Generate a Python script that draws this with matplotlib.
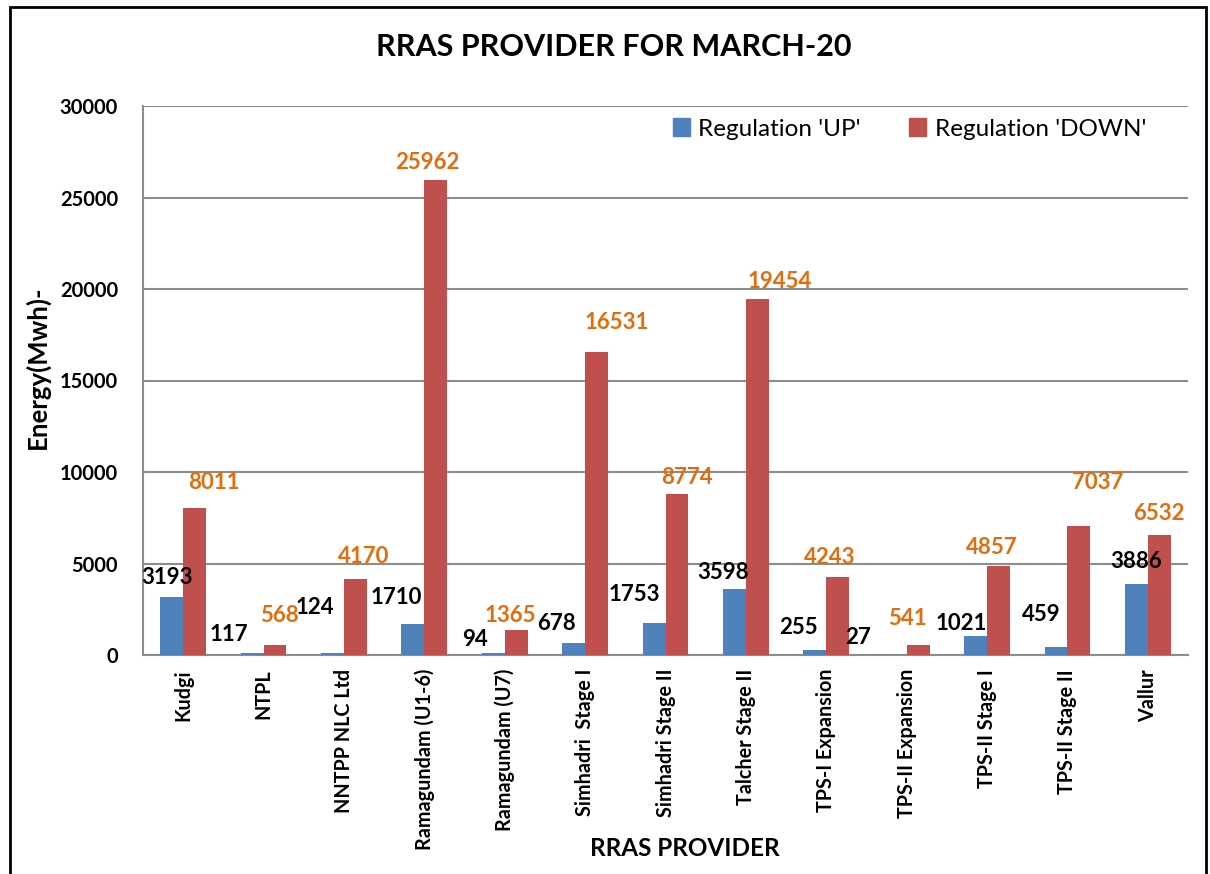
import numpy as np
import matplotlib
matplotlib.use("Agg")
import matplotlib.pyplot as plt
from matplotlib.patches import Rectangle, Patch

providers = ["Kudgi", "NTPL", "NNTPP NLC Ltd", "Ramagundam (U1-6)", "Ramagundam (U7)",
             "Simhadri  Stage I", "Simhadri Stage II", "Talcher Stage II", "TPS-I Expansion",
             "TPS-II Expansion", "TPS-II Stage I", "TPS-II Stage II", "Vallur"]
reg_up = [3193, 117, 124, 1710, 94, 678, 1753, 3598, 255, 27, 1021, 459, 3886]
reg_down = [8011, 568, 4170, 25962, 1365, 16531, 8774, 19454, 4243, 541, 4857, 7037, 6532]

# hand-placed data label offsets (pixels from bar top centre), as in the source chart
up_dx = [-5, -23, -18, -17, -18, -17, -20, -11, -16, -37, -14, -15, 0]
up_dy = [19, 18, 45, 26, 14, 19, 28, 17, 23, 17, 13, 32, 22]
down_dx = [19, 4, 8, -8, -6, 20, 10, 22, -8, -11, -7, 19, 0]
down_dy = [26, 29, 22, 17, 15, 30, 17, 17, 20, 27, 19, 44, 22]

BLUE = "#4F81BD"
RED = "#C0504D"
ORANGE = "#E46C0A"
GRID = "#8C8C8C"

plt.rcParams["font.family"] = ["Lato", "DejaVu Sans"]

W, H = 1210, 874
fig = plt.figure(figsize=(W / 100, H / 100), dpi=100)
ax = fig.add_axes([143 / W, 1 - 655 / H, (1188 - 143) / W, (655 - 106) / H])

x = np.arange(len(providers))
w = 0.285
ax.bar(x - w / 2, reg_up, w, color=BLUE, label="Regulation 'UP'", zorder=3)
ax.bar(x + w / 2, reg_down, w, color=RED, label="Regulation 'DOWN'", zorder=3)

ax.set_xlim(-0.5, len(providers) - 0.5)
ax.set_ylim(0, 30000)
ax.set_yticks(np.arange(0, 30001, 5000))
ax.yaxis.grid(True, color=GRID, lw=1.5, zorder=0)
ax.set_axisbelow(True)
for s in ["top", "right"]:
    ax.spines[s].set_visible(False)
for s in ["left", "bottom"]:
    ax.spines[s].set_color(GRID)
    ax.spines[s].set_linewidth(1.5)

ax.set_xticks(x)
ax.set_xticklabels(providers, rotation=90, fontsize=14.2, fontweight="bold", va="top")
ax.tick_params(axis="x", length=0, pad=10)
ax.tick_params(axis="y", length=0, pad=18, labelsize=14.5)
for t in ax.get_yticklabels():
    t.set_fontweight("bold")

for i in range(len(providers)):
    ax.annotate(str(reg_up[i]), (x[i] - w / 2, reg_up[i]),
                xytext=(up_dx[i], up_dy[i]), textcoords="offset pixels",
                ha="center", va="center", fontsize=16, fontweight="bold",
                color="black", zorder=5)
    ax.annotate(str(reg_down[i]), (x[i] + w / 2, reg_down[i]),
                xytext=(down_dx[i], down_dy[i]), textcoords="offset pixels",
                ha="center", va="center", fontsize=16, fontweight="bold",
                color=ORANGE, zorder=5)

handles = [Patch(color=BLUE, label="Regulation 'UP'"),
           Patch(color=RED, label="Regulation 'DOWN'")]
fig.legend(handles=handles, loc="center right", bbox_to_anchor=(1168 / W, 1 - 129 / H),
           ncol=2, frameon=False, fontsize=17.5, handlelength=0.7, handleheight=0.7,
           handletextpad=0.35, columnspacing=2.0)

fig.text(614 / W, 1 - 47 / H, "RRAS PROVIDER FOR MARCH-20", ha="center", va="center",
         fontsize=22, fontweight="bold")
fig.text(685 / W, 1 - 848 / H, "RRAS PROVIDER", ha="center", va="center",
         fontsize=17.5, fontweight="bold")
fig.text(37 / W, 1 - 367 / H, "Energy(Mwh)-", ha="center", va="center", rotation=90,
         fontsize=18.5, fontweight="bold")

fig.patches.append(Rectangle((10 / W, -0.05), (1206 - 10) / W, 1 - 7 / H + 0.05,
                             transform=fig.transFigure, fill=False, ec="black", lw=2,
                             clip_on=False))

fig.savefig("out.png", dpi=100)
